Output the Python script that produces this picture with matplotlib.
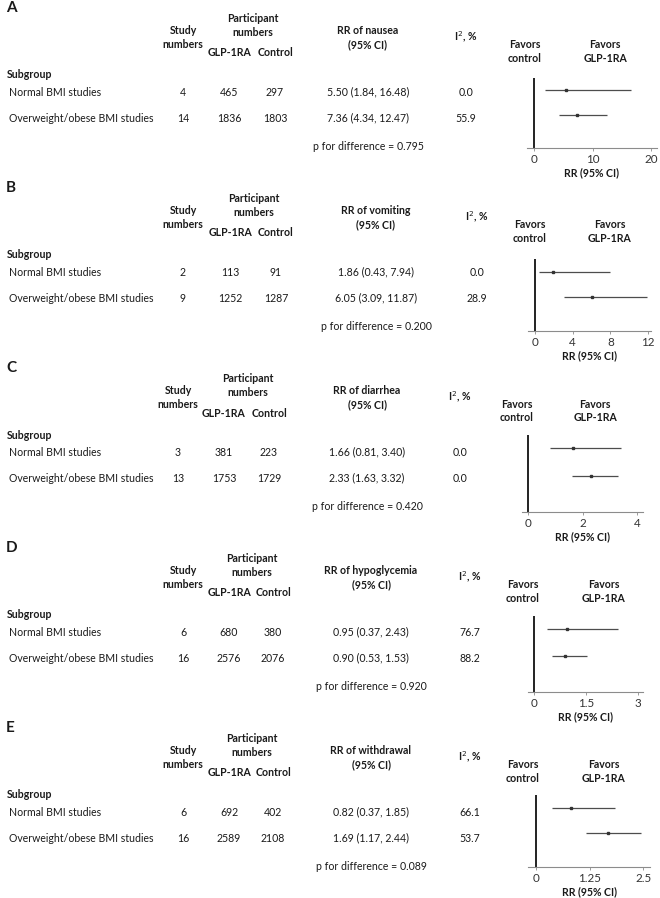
"""Subgroup forest plots: GLP-1RA adverse events by BMI."""
import matplotlib
matplotlib.use("Agg")
import matplotlib.pyplot as plt

plt.rcParams["font.family"] = ["Lato", "DejaVu Sans"]

# ---- data -------------------------------------------------------------
panel_letters = ["A", "B", "C", "D", "E"]
outcomes = ["nausea", "vomiting", "diarrhea", "hypoglycemia", "withdrawal"]
subgroups = ["Normal BMI studies", "Overweight/obese BMI studies"]

study_numbers = [[4, 14], [2, 9], [3, 13], [6, 16], [6, 16]]
glp_numbers = [[465, 1836], [113, 1252], [381, 1753], [680, 2576], [692, 2589]]
control_numbers = [[297, 1803], [91, 1287], [223, 1729], [380, 2076], [402, 2108]]
rr = [[5.50, 7.36], [1.86, 6.05], [1.66, 2.33], [0.95, 0.90], [0.82, 1.69]]
rr_low = [[1.84, 4.34], [0.43, 3.09], [0.81, 1.63], [0.37, 0.53], [0.37, 1.17]]
rr_high = [[16.48, 12.47], [7.94, 11.87], [3.40, 3.32], [2.43, 1.53], [1.85, 2.44]]
i2 = [[0.0, 55.9], [0.0, 28.9], [0.0, 0.0], [76.7, 88.2], [66.1, 53.7]]
p_diff = ["0.795", "0.200", "0.420", "0.920", "0.089"]
x_ticks = [[0, 10, 20], [0, 4, 8, 12], [0, 2, 4], [0, 1.5, 3], [0, 1.25, 2.5]]
x_limits = [(-1.2, 21.0), (-0.74, 12.3), (-0.22, 4.22), (-0.17, 3.14), (-0.19, 2.66)]

# ---- layout (pixels of the 660x898 image) -----------------------------
W, H = 660, 898
panel_top = [0, 180, 360, 540, 720]
# columns: study, glp, control, rr, i2
columns = [
    [183, 229, 275, 368, 466],
    [183, 230, 276, 376, 477],
    [178, 224, 269, 367, 460],
    [183, 229, 273, 371, 470],
    [183, 229, 273, 371, 470],
]
favors_x = [(525, 605), (530, 610), (517, 595), (523, 604), (523, 604)]
# forest axes: left, right, top, bottom, row0, row1 (absolute px)
forest_box = [
    (527, 657, 78, 148, 90, 115),
    (528, 651, 259, 331, 272, 297),
    (522, 643, 435, 512, 448, 476),
    (528, 643, 616, 692, 629, 656),
    (528, 650, 795, 867, 808, 833),
]

FS = 7.6
TXT = "#1a1a1a"

fig = plt.figure(figsize=(W / 100, H / 100), dpi=100)


def put(x, y, s, ha="center", bold=False, size=FS, **kw):
    fig.text(x / W, 1 - y / H, s, ha=ha, va="center", fontsize=size,
             fontweight="bold" if bold else "normal", color=TXT, **kw)


for k in range(5):
    y0 = panel_top[k]
    cs, cg, cc, cr, ci = columns[k]
    put(6, y0 + 8, panel_letters[k], ha="left", bold=True, size=11)

    # headers
    put(cs, y0 + 30, "Study", bold=True)
    put(cs, y0 + 45, "numbers", bold=True)
    put((cg + cc) / 2 + 1, y0 + 18, "Participant", bold=True)
    put((cg + cc) / 2 + 1, y0 + 33, "numbers", bold=True)
    put(cg, y0 + 53, "GLP-1RA", bold=True)
    put(cc, y0 + 53, "Control", bold=True)
    put(cr, y0 + 30, f"RR of {outcomes[k]}", bold=True)
    put(cr, y0 + 45, "(95% CI)", bold=True)
    put(ci, y0 + 37, r"I$^{2}$, %", bold=True)
    put(favors_x[k][0], y0 + 45, "Favors", bold=True)
    put(favors_x[k][0], y0 + 58, "control", bold=True)
    put(favors_x[k][1], y0 + 45, "Favors", bold=True)
    put(favors_x[k][1], y0 + 58, "GLP-1RA", bold=True)
    put(7, y0 + 75, "Subgroup", ha="left", bold=True)

    for j, name in enumerate(subgroups):
        yy = y0 + 92 + 26 * j
        put(9, yy, name, ha="left")
        put(cs, yy, str(study_numbers[k][j]))
        put(cg, yy, str(glp_numbers[k][j]))
        put(cc, yy, str(control_numbers[k][j]))
        put(cr, yy, f"{rr[k][j]:.2f} ({rr_low[k][j]:.2f}, {rr_high[k][j]:.2f})")
        put(ci, yy, f"{i2[k][j]:.1f}")
    put(cr, y0 + 146, f"p for difference = {p_diff[k]}")

    # forest plot
    left, right, top, bottom, r0, r1 = forest_box[k]
    ax = fig.add_axes([left / W, 1 - bottom / H, (right - left) / W,
                       (bottom - top) / H])
    unit = r1 - r0
    ax.set_ylim(1 + (bottom - r1) / unit, -(r0 - top) / unit)
    ax.set_xlim(*x_limits[k])
    ax.patch.set_alpha(0)
    for side in ["top", "right", "left"]:
        ax.spines[side].set_visible(False)
    ax.spines["bottom"].set_color("#8c8c8c")
    ax.spines["bottom"].set_linewidth(0.8)
    ax.axvline(0, color="#111111", lw=1.3)
    rows = range(len(subgroups))
    ax.hlines(list(rows), rr_low[k], rr_high[k], color="#4d4d4d", lw=0.9)
    ax.plot(rr[k], list(rows), ls="none", marker="s", ms=1.6,
            color="#333333")
    ax.set_yticks([])
    ax.set_xticks(x_ticks[k])
    ax.set_xticklabels([f"{t:g}" for t in x_ticks[k]])
    ax.tick_params(axis="x", length=2, width=0.6, color="#8c8c8c",
                   labelsize=8.4, labelcolor="#333333", pad=2)
    ax.set_xlabel("RR (95% CI)", fontsize=FS, fontweight="bold", color=TXT,
                  labelpad=2)

fig.savefig("out.png", dpi=100)
